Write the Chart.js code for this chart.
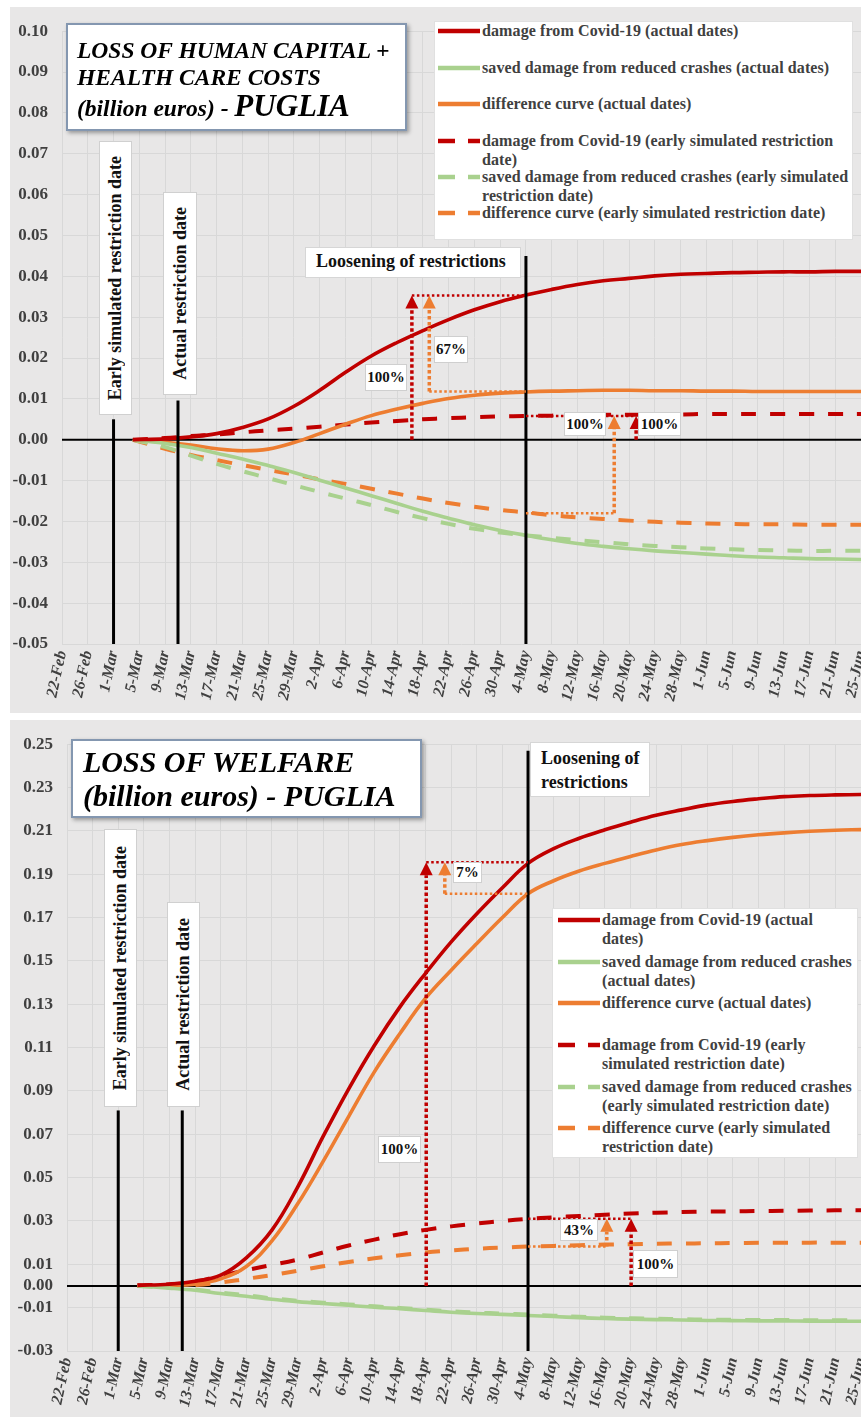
<!DOCTYPE html>
<html><head><meta charset="utf-8">
<script src="https://cdn.jsdelivr.net/npm/chart.js@4.4.1/dist/chart.umd.min.js"></script>
<style>
html,body{margin:0;padding:0;background:#fff;}
body{width:861px;height:1417px;position:relative;overflow:hidden;font-family:"Liberation Serif","Times New Roman",serif;}
.panel{position:absolute;background:#e8e7e7;}
.cw{position:absolute;}
.title{position:absolute;background:#fff;border:2px solid #8497b0;box-shadow:2px 2px 4px rgba(0,0,0,.35);box-sizing:border-box;font-weight:bold;font-style:italic;color:#000;z-index:3;}
.title div{position:absolute;white-space:nowrap;}
.vbox{position:absolute;background:#fff;border:1px solid #d0d0d0;display:flex;align-items:center;justify-content:center;box-sizing:border-box;z-index:3;}
.vbox span{writing-mode:vertical-rl;transform:rotate(180deg);font-weight:bold;font-size:18px;color:#111;white-space:nowrap;}
.lbox{position:absolute;background:#fff;border:1px solid #d6d6d6;box-sizing:border-box;font-weight:bold;font-size:18px;color:#111;z-index:3;line-height:26px;padding-left:10px;white-space:nowrap;}
.pbox{position:absolute;background:#fff;border:1px solid #cfcfcf;box-sizing:border-box;font-weight:bold;font-size:15px;color:#111;display:flex;align-items:center;justify-content:center;z-index:3;}
.legend{position:absolute;background:#fff;border:1px solid #e0e0e0;box-sizing:border-box;z-index:3;}
.lrow{position:absolute;}
.lrow svg{position:absolute;left:0;top:4px;}
.lrow .lt{position:absolute;left:44px;top:0;font-weight:bold;font-size:16px;line-height:18.5px;color:#404040;white-space:nowrap;letter-spacing:0.1px;}
</style>
</head>
<body>
<div class="panel" style="left:10px;top:7px;width:851px;height:706px"></div>
<div class="panel" style="left:10px;top:720px;width:851px;height:697px"></div>
<div class="cw" style="left:10px;top:7px;width:851px;height:706px"><canvas id="c1"></canvas></div>
<div class="cw" style="left:10px;top:720px;width:851px;height:697px"><canvas id="c2"></canvas></div>

<div class="title" style="left:66px;top:23px;width:341px;height:108px">
  <div style="left:9px;top:12px;font-size:23.5px;line-height:27px">LOSS OF HUMAN CAPITAL +</div>
  <div style="left:9px;top:39px;font-size:23.5px;line-height:27px">HEALTH CARE COSTS</div>
  <div style="left:9px;top:64px;font-size:23.5px;line-height:34px">(billion euros) - <span style="font-size:31px">PUGLIA</span></div>
</div>
<div class="title" style="left:71px;top:739px;width:351px;height:79px">
  <div style="left:10px;top:4px;font-size:30px;line-height:34px">LOSS OF WELFARE</div>
  <div style="left:10px;top:38px;font-size:30px;line-height:34px">(billion euros) - PUGLIA</div>
</div>

<div class="vbox" style="left:99px;top:141px;width:33px;height:274px"><span>Early simulated restriction date</span></div>
<div class="vbox" style="left:163px;top:192px;width:34px;height:203px"><span>Actual restriction date</span></div>
<div class="lbox" style="left:305px;top:247px;width:216px;height:31px">Loosening of restrictions</div>
<div class="vbox" style="left:104px;top:829px;width:33px;height:278px"><span>Early simulated restriction date</span></div>
<div class="vbox" style="left:167px;top:902px;width:33px;height:205px"><span>Actual restriction date</span></div>
<div class="lbox" style="left:530px;top:742px;width:120px;height:55px;line-height:24px;padding-top:3px">Loosening of<br>restrictions</div>

<div class="pbox" style="left:365px;top:364px;width:42px;height:27px">100%</div>
<div class="pbox" style="left:434px;top:336px;width:34px;height:27px">67%</div>
<div class="pbox" style="left:564px;top:412px;width:42px;height:24px">100%</div>
<div class="pbox" style="left:638px;top:412px;width:43px;height:24px">100%</div>
<div class="pbox" style="left:378px;top:1136px;width:43px;height:27px">100%</div>
<div class="pbox" style="left:453px;top:862px;width:29px;height:21px">7%</div>
<div class="pbox" style="left:560px;top:1219px;width:38px;height:22px">43%</div>
<div class="pbox" style="left:633px;top:1250px;width:45px;height:28px">100%</div>

<div class="legend" id="lg1" style="left:434px;top:21px;width:419px;height:219px"></div>
<div class="legend" id="lg2" style="left:552px;top:908px;width:306px;height:250px"></div>

<script>
// ---------- DATA ----------
const tickLabels = ['22-Feb','26-Feb','1-Mar','5-Mar','9-Mar','13-Mar','17-Mar','21-Mar','25-Mar','29-Mar','2-Apr','6-Apr','10-Apr','14-Apr','18-Apr','22-Apr','26-Apr','30-Apr','4-May','8-May','12-May','16-May','20-May','24-May','28-May','1-Jun','5-Jun','9-Jun','13-Jun','17-Jun','21-Jun','25-Jun'];
const tickDays = [0,4,8,12,16,20,24,28,32,36,40,44,48,52,56,60,64,68,72,76,80,84,88,92,96,100,104,108,112,116,120,124];
// sample days (days since 22-Feb-2020)
const sampleDays = [11,16,20,24,28,32,36,40,44,48,52,56,60,64,68,72,76,80,84,88,92,96,100,104,108,112,116,120,124];

const yTicksTop = [-0.05,-0.04,-0.03,-0.02,-0.01,0,0.01,0.02,0.03,0.04,0.05,0.06,0.07,0.08,0.09,0.10];
const yTicksBottom = [-0.03,-0.01,0,0.01,0.03,0.05,0.07,0.09,0.11,0.13,0.15,0.17,0.19,0.21,0.23,0.25];

// Panel 1: loss of human capital + health care costs
const damageActualTop = [0,0.0002,0.0007,0.0015,0.0030,0.0051,0.0082,0.0121,0.0165,0.0205,0.0238,0.0267,0.0294,0.0318,0.0338,0.0354,0.0368,0.0380,0.0389,0.0395,0.0401,0.0405,0.0407,0.0409,0.0410,0.0411,0.0411,0.0412,0.0412];
const savedActualTop = [0,-0.0009,-0.0019,-0.0033,-0.0047,-0.0063,-0.0080,-0.0099,-0.0118,-0.0137,-0.0156,-0.0175,-0.0192,-0.0208,-0.0222,-0.0234,-0.0245,-0.0254,-0.0261,-0.0267,-0.0272,-0.0276,-0.0280,-0.0284,-0.0287,-0.0289,-0.0291,-0.0292,-0.0293];
const diffActualTop = [0,-0.0006,-0.0013,-0.0022,-0.0027,-0.0023,-0.0007,0.0015,0.0038,0.0059,0.0075,0.0089,0.0101,0.0109,0.0114,0.0117,0.0119,0.0120,0.0121,0.0121,0.0120,0.0120,0.0119,0.0119,0.0118,0.0118,0.0118,0.0118,0.0118];
const damageEarlyTop = [0,0.0004,0.0009,0.0013,0.0018,0.0023,0.0027,0.0032,0.0037,0.0042,0.0046,0.0050,0.0053,0.0055,0.0057,0.0058,0.0059,0.0060,0.0061,0.0061,0.0062,0.0062,0.0063,0.0063,0.0063,0.0063,0.0063,0.0063,0.0063];
const savedEarlyTop = [0,-0.0018,-0.0039,-0.0059,-0.0077,-0.0094,-0.0111,-0.0128,-0.0144,-0.0160,-0.0177,-0.0192,-0.0206,-0.0218,-0.0227,-0.0234,-0.0240,-0.0246,-0.0251,-0.0256,-0.0260,-0.0263,-0.0266,-0.0268,-0.0270,-0.0271,-0.0272,-0.0272,-0.0272];
const diffEarlyTop = [0,-0.0022,-0.0037,-0.0050,-0.0062,-0.0074,-0.0085,-0.0097,-0.0108,-0.0120,-0.0132,-0.0144,-0.0155,-0.0164,-0.0172,-0.0178,-0.0185,-0.0190,-0.0194,-0.0198,-0.0201,-0.0203,-0.0205,-0.0206,-0.0207,-0.0207,-0.0208,-0.0208,-0.0208];

// Panel 2: loss of welfare
const damageActualBot = [0.0003,0.0008,0.0022,0.0050,0.0130,0.0258,0.0455,0.0690,0.0910,0.1110,0.1288,0.1443,0.1588,0.1718,0.1838,0.1950,0.2018,0.2066,0.2105,0.2140,0.2172,0.2197,0.2220,0.2236,0.2248,0.2258,0.2263,0.2266,0.2268];
const savedActualBot = [0,-0.0010,-0.0020,-0.0035,-0.0047,-0.0061,-0.0072,-0.0081,-0.0089,-0.0098,-0.0105,-0.0113,-0.0121,-0.0127,-0.0131,-0.0136,-0.0141,-0.0146,-0.0150,-0.0153,-0.0155,-0.0157,-0.0159,-0.0160,-0.0161,-0.0161,-0.0162,-0.0162,-0.0163];
const diffActualBot = [0,0.0003,0.0008,0.0033,0.0090,0.0208,0.0378,0.0575,0.0783,0.0988,0.1165,0.1328,0.1457,0.1580,0.1700,0.1810,0.1870,0.1915,0.1950,0.1982,0.2012,0.2037,0.2055,0.2070,0.2082,0.2091,0.2098,0.2103,0.2106];
const damageEarlyBot = [0.0003,0.0008,0.0020,0.0048,0.0073,0.0097,0.0122,0.0155,0.0187,0.0214,0.0239,0.0259,0.0275,0.0288,0.0300,0.0310,0.0317,0.0323,0.0329,0.0334,0.0338,0.0341,0.0343,0.0344,0.0346,0.0347,0.0348,0.0349,0.0349];
const savedEarlyBot = [0,-0.0007,-0.0016,-0.0031,-0.0043,-0.0057,-0.0068,-0.0077,-0.0085,-0.0094,-0.0101,-0.0109,-0.0117,-0.0123,-0.0127,-0.0132,-0.0137,-0.0142,-0.0146,-0.0149,-0.0151,-0.0153,-0.0155,-0.0156,-0.0157,-0.0157,-0.0158,-0.0158,-0.0159];
const diffEarlyBot = [0,0.0002,0.0005,0.0016,0.0033,0.0050,0.0070,0.0091,0.0111,0.0128,0.0142,0.0155,0.0164,0.0172,0.0177,0.0182,0.0185,0.0188,0.0191,0.0193,0.0195,0.0196,0.0197,0.0198,0.0199,0.0199,0.0200,0.0200,0.0200];

const legendLinesTop = [
  ['damage from Covid-19 (actual dates)'],
  ['saved damage from reduced crashes (actual dates)'],
  ['difference curve (actual dates)'],
  ['damage from Covid-19 (early simulated restriction','date)'],
  ['saved damage from reduced crashes (early simulated','restriction date)'],
  ['difference curve (early simulated restriction date)']
];
const legendLinesBottom = [
  ['damage from Covid-19 (actual','dates)'],
  ['saved damage from reduced crashes','(actual dates)'],
  ['difference curve (actual dates)'],
  ['damage from Covid-19 (early','simulated restriction date)'],
  ['saved damage from reduced crashes','(early simulated restriction date)'],
  ['difference curve (early simulated','restriction date)']
];

// ---------- STYLE ----------
const RED = '#C00000', GREEN = '#A9D18E', ORANGE = '#ED7D31';
const seriesStyle = [
  {color: RED, dash: false}, {color: GREEN, dash: false}, {color: ORANGE, dash: false},
  {color: RED, dash: true}, {color: GREEN, dash: true}, {color: ORANGE, dash: true}
];
const FONT = '"Liberation Serif","Times New Roman",serif';

// annotation geometry (in data units: days / billion euros)
const annCfg = {
  c1: {
    vlines: [{day: 8, top: 0.005}, {day: 18, top: 0.0096}, {day: 72, top: 0.045}],
    hlines: [{from: 54.3, to: 72, y: 0.0353, color: RED}, {from: 57.0, to: 72, y: 0.0118, color: ORANGE},
             {from: 72, to: 85.7, y: -0.018, color: ORANGE}, {from: 72, to: 89.1, y: 0.0058, color: RED}],
    arrows: [{day: 54.3, from: 0, to: 0.0353, color: RED}, {day: 57.0, from: 0.0118, to: 0.0353, color: ORANGE},
             {day: 85.7, from: -0.018, to: 0.0058, color: ORANGE}, {day: 89.1, from: 0, to: 0.0058, color: RED}]
  },
  c2: {
    vlines: [{day: 8, top: 0.081}, {day: 18, top: 0.081}, {day: 72, top: 0.247}],
    hlines: [{from: 56.1, to: 72, y: 0.1955, color: RED}, {from: 59.0, to: 72, y: 0.181, color: ORANGE},
             {from: 72, to: 88.1, y: 0.031, color: RED}, {from: 72, to: 84.3, y: 0.0182, color: ORANGE}],
    arrows: [{day: 56.1, from: 0, to: 0.1955, color: RED}, {day: 59.0, from: 0.181, to: 0.1955, color: ORANGE},
             {day: 84.3, from: 0.0182, to: 0.031, color: ORANGE}, {day: 88.1, from: 0, to: 0.031, color: RED}]
  }
};

const annPlugin = {
  id: 'ann',
  beforeDatasetsDraw(chart) {
    const {ctx, chartArea: a, scales: {y}} = chart;
    const yy = y.getPixelForValue(0);
    ctx.save(); ctx.strokeStyle = '#000'; ctx.lineWidth = 2.2;
    ctx.beginPath(); ctx.moveTo(a.left, yy); ctx.lineTo(a.right, yy); ctx.stroke(); ctx.restore();
  },
  afterDatasetsDraw(chart) {
    const cfg = annCfg[chart.canvas.id];
    const {ctx, chartArea: a, scales: {x, y}} = chart;
    ctx.save();
    ctx.strokeStyle = '#000'; ctx.lineWidth = 3;
    cfg.vlines.forEach(v => {
      const px = x.getPixelForValue(v.day);
      ctx.beginPath(); ctx.moveTo(px, a.bottom); ctx.lineTo(px, y.getPixelForValue(v.top)); ctx.stroke();
    });
    cfg.hlines.forEach(h => {
      ctx.strokeStyle = h.color; ctx.lineWidth = 2.5; ctx.setLineDash([2.5, 2.5]);
      const py = y.getPixelForValue(h.y);
      ctx.beginPath(); ctx.moveTo(x.getPixelForValue(h.from), py); ctx.lineTo(x.getPixelForValue(h.to), py); ctx.stroke();
    });
    cfg.arrows.forEach(ar => {
      const px = x.getPixelForValue(ar.day), p0 = y.getPixelForValue(ar.from), p1 = y.getPixelForValue(ar.to);
      const head = 13, hw = 6.5;
      ctx.strokeStyle = ar.color; ctx.lineWidth = 3.5; ctx.setLineDash([3.5, 2.5]);
      ctx.beginPath(); ctx.moveTo(px, p0); ctx.lineTo(px, p1 + head); ctx.stroke();
      ctx.setLineDash([]); ctx.fillStyle = ar.color;
      ctx.beginPath(); ctx.moveTo(px, p1); ctx.lineTo(px - hw, p1 + head); ctx.lineTo(px + hw, p1 + head); ctx.closePath(); ctx.fill();
    });
    ctx.restore();
  }
};

function makeDatasets(arrs) {
  return arrs.map((arr, i) => ({
    data: sampleDays.map((d, k) => ({x: d, y: arr[k]})),
    borderColor: seriesStyle[i].color,
    borderWidth: seriesStyle[i].dash ? 4 : 3.6,
    borderDash: seriesStyle[i].dash ? [15, 14] : [],
    pointRadius: 0,
    tension: 0.4,
    fill: false
  }));
}

function makeChart(id, arrs, yMin, yMax, yTicks, yWidth, xHeight, padTop) {
  return new Chart(document.getElementById(id), {
    type: 'line',
    data: {datasets: makeDatasets(arrs)},
    options: {
      responsive: true, maintainAspectRatio: false, animation: false,
      layout: {padding: {top: padTop, right: 0, left: 0, bottom: 0}},
      plugins: {legend: {display: false}, tooltip: {enabled: false}},
      scales: {
        x: {
          type: 'linear', min: 0, max: 124,
          afterBuildTicks: s => { s.ticks = tickDays.map(v => ({value: v})); },
          afterFit: s => { s.height = xHeight; s.paddingLeft = 0; s.paddingRight = 0; },
          ticks: {autoSkip: false, minRotation: 78, maxRotation: 78, padding: 5, color: '#404040',
                  font: {family: FONT, size: 16, weight: 'bold', style: 'italic'},
                  callback: v => tickLabels[tickDays.indexOf(Math.round(v))]},
          grid: {color: '#d8d8d8', drawTicks: false, lineWidth: 1},
          border: {display: false}
        },
        y: {
          min: yMin, max: yMax,
          afterBuildTicks: s => { s.ticks = yTicks.map(v => ({value: v})); },
          afterFit: s => { s.width = yWidth; },
          ticks: {padding: 14, color: '#404040', font: {family: FONT, size: 17, weight: 'bold'},
                  callback: v => v.toFixed(2)},
          grid: {color: '#d8d8d8', drawTicks: false, lineWidth: 1},
          border: {display: false}
        }
      }
    },
    plugins: [annPlugin]
  });
}

makeChart('c1', [damageActualTop, savedActualTop, diffActualTop, damageEarlyTop, savedEarlyTop, diffEarlyTop],
          -0.05, 0.10, yTicksTop, 52, 69, 11);
makeChart('c2', [damageActualBot, savedActualBot, diffActualBot, damageEarlyBot, savedEarlyBot, diffEarlyBot],
          -0.03, 0.25, yTicksBottom, 57, 66, 15);

// ---------- HTML legends ----------
function buildLegend(id, lines, rowTops, leftPad) {
  const box = document.getElementById(id);
  lines.forEach((ls, i) => {
    const st = seriesStyle[i];
    const row = document.createElement('div');
    row.className = 'lrow';
    row.style.left = leftPad + 'px';
    row.style.top = rowTops[i] + 'px';
    const seg = st.dash
      ? `<line x1="0" y1="5" x2="17" y2="5" stroke="${st.color}" stroke-width="4.5"/><line x1="30" y1="5" x2="42" y2="5" stroke="${st.color}" stroke-width="4.5"/>`
      : `<line x1="0" y1="5" x2="42" y2="5" stroke="${st.color}" stroke-width="4.5"/>`;
    row.innerHTML = `<svg width="42" height="10">${seg}</svg><div class="lt">${ls.join('<br>')}</div>`;
    box.appendChild(row);
  });
}
buildLegend('lg1', legendLinesTop, [0, 37, 73, 110, 146, 182], 3);
buildLegend('lg2', legendLinesBottom, [2, 44, 85, 127, 169, 210], 5);
</script>
</body></html>
